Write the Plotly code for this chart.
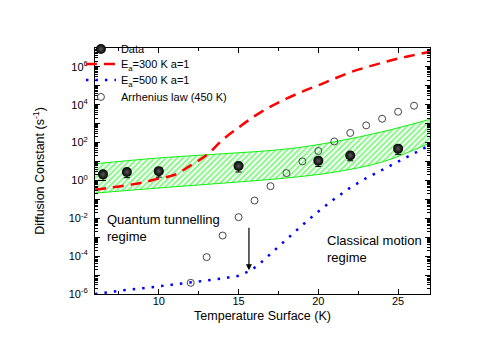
import plotly.graph_objects as go

# measured data (diffusion constant, s^-1)
data_T = [6.5, 8, 10, 15, 20, 22, 25]
data_D = [2.1, 2.8, 3.1, 5.8, 11, 21, 48]
data_err = [1.1, 1.4, 1.6, 3.0, 5.5, 10, 24]

# model Ea=300 K a=1
red_T = [6, 7, 8, 9, 10, 11, 12, 13, 14, 15, 16, 17, 18, 19, 20, 21, 22, 23, 24, 25, 26, 27]
red_D = [0.32, 0.42, 0.56, 0.79, 1.26, 2.0, 6.3, 22, 141, 630, 2.5e3, 7.9e3, 2.1e4, 5.0e4,
         1.07e5, 2.4e5, 5.2e5, 9.5e5, 1.66e6, 2.75e6, 4.2e6, 6.3e6]

# model Ea=500 K a=1
blue_T = [6, 7, 8, 9, 10, 11, 12, 13, 14, 15, 15.75, 16.25, 17, 18, 19, 20, 21, 22, 23, 24, 25, 26, 27]
blue_D = [1.0e-6, 1.32e-6, 1.66e-6, 2.0e-6, 2.5e-6, 3.2e-6, 3.9e-6, 5.0e-6, 6.6e-6, 9.1e-6,
          1.74e-5, 3.5e-5, 1.26e-4, 7.6e-4, 4.4e-3, 2.3e-2, 0.105, 0.42, 1.32, 3.6, 10.5, 28, 74]

# Arrhenius law (450 K)
arr_T = [12, 13, 14, 15, 16, 17, 18, 19, 20, 21, 22, 23, 24, 25, 26]
arr_D = [3.9e-6, 8.9e-5, 1.23e-3, 1.15e-2, 8.7e-2, 0.50, 2.45, 10.2, 36, 115, 324, 813, 1820, 4270, 8910]

# hatched band
band_T = [6, 10, 14, 18, 21, 24, 27]
band_hi = [7.6, 15.5, 25.7, 45.7, 110, 372, 1700]
band_lo = [0.214, 0.40, 0.72, 1.35, 2.75, 9.5, 95.5]

# arrow marking the transition
arrow_T = 15.65
arrow_from = -2.42   # log10 of D
arrow_to = -4.74

y_exp = list(range(-6, 8))
y_ticktext = ["10<sup>%d</sup>" % e if e % 2 == 0 else "" for e in y_exp]

FONT = "Arial, Liberation Sans, sans-serif"

fig = go.Figure()

fig.add_trace(go.Scatter(x=band_T, y=band_lo, mode="lines", line=dict(color="#11ee11", width=1, shape="spline"),
                         showlegend=False, hoverinfo="skip"))
fig.add_trace(go.Scatter(x=band_T, y=band_hi, mode="lines", line=dict(color="#11ee11", width=1, shape="spline"),
                         fill="tonexty", fillcolor="rgba(0,0,0,0)",
                         fillpattern=dict(shape="/", fgcolor="#11ee11", bgcolor="white", size=4, solidity=0.5),
                         showlegend=False, hoverinfo="skip"))

fig.add_trace(go.Scatter(x=red_T, y=red_D, mode="lines", name="E<sub>a</sub>=300 K a=1", legend="legend2",
                         line=dict(color="#ff0000", width=2.5, dash="11px,7px", shape="spline")))
fig.add_trace(go.Scatter(x=blue_T, y=blue_D, mode="lines", name="E<sub>a</sub>=500 K a=1", legend="legend3",
                         line=dict(color="#0000ff", width=2.5, dash="2.5px,7px")))
fig.add_trace(go.Scatter(x=arr_T, y=arr_D, mode="markers", name="Arrhenius law (450 K)", legend="legend4",
                         marker=dict(symbol="circle-open", size=7, color="#444", line=dict(width=1))))
fig.add_trace(go.Scatter(x=data_T, y=data_D, mode="markers", name="Data", legend="legend",
                         error_y=dict(type="data", array=data_err, color="black", thickness=1, width=3),
                         marker=dict(symbol="circle", size=10, color="black",
                                     gradient=dict(type="radial", color="#5a5a5a"))))

fig.add_annotation(x=arrow_T, y=arrow_to, ax=arrow_T, ay=arrow_from, xref="x", yref="y", axref="x", ayref="y",
                   showarrow=True, arrowhead=2, arrowsize=1, arrowwidth=1.2, arrowcolor="black", text="")
fig.add_annotation(x=6.6, y=-2.53, xref="x", yref="y", text="Quantum tunnelling<br>regime",
                   showarrow=False, xanchor="left", align="left", font=dict(size=13, color="black", family=FONT))
fig.add_annotation(x=20.4, y=-3.6, xref="x", yref="y", text="Classical motion<br>regime",
                   showarrow=False, xanchor="left", align="left", font=dict(size=13, color="black", family=FONT))

x_minor = [7.5, 12.5, 17.5, 22.5]
y_minor = [m * 10 ** e for e in range(-6, 7) for m in range(2, 10)]


def legend_box(yc):
    return dict(x=-0.042, y=yc, xanchor="left", yanchor="middle", bgcolor="rgba(0,0,0,0)",
                font=dict(size=11), itemwidth=30)


fig.update_layout(
    width=491, height=343,
    margin=dict(l=87, r=69, t=40, b=57),
    plot_bgcolor="white", paper_bgcolor="white",
    font=dict(family=FONT, size=11, color="black"),
    legend=legend_box(0.996),
    legend2=legend_box(0.935),
    legend3=legend_box(0.870),
    legend4=legend_box(0.801),
    xaxis=dict(range=[6, 27], tickvals=[10, 15, 20, 25], ticks="inside", ticklen=5, tickcolor="black",
               showline=True, linecolor="black", linewidth=1, mirror="allticks", showgrid=False, zeroline=False,
               minor=dict(tickvals=x_minor, ticks="inside", ticklen=3, tickcolor="black"),
               ticklabelstandoff=-3,
               title=dict(text="Temperature Surface (K)", font=dict(size=12.5), standoff=5)),
    yaxis=dict(type="log", range=[-6, 7], tickvals=[10 ** e for e in y_exp], ticktext=y_ticktext,
               ticks="inside", ticklen=5, tickcolor="black",
               showline=True, linecolor="black", linewidth=1, mirror="allticks", showgrid=False, zeroline=False,
               minor=dict(tickvals=y_minor, ticks="inside", ticklen=3, tickcolor="black"),
               ticklabelstandoff=4,
               title=dict(text="Diffusion Constant (s<sup>-1</sup>)", font=dict(size=12.5), standoff=21)),
)

fig.write_html("out.html")
